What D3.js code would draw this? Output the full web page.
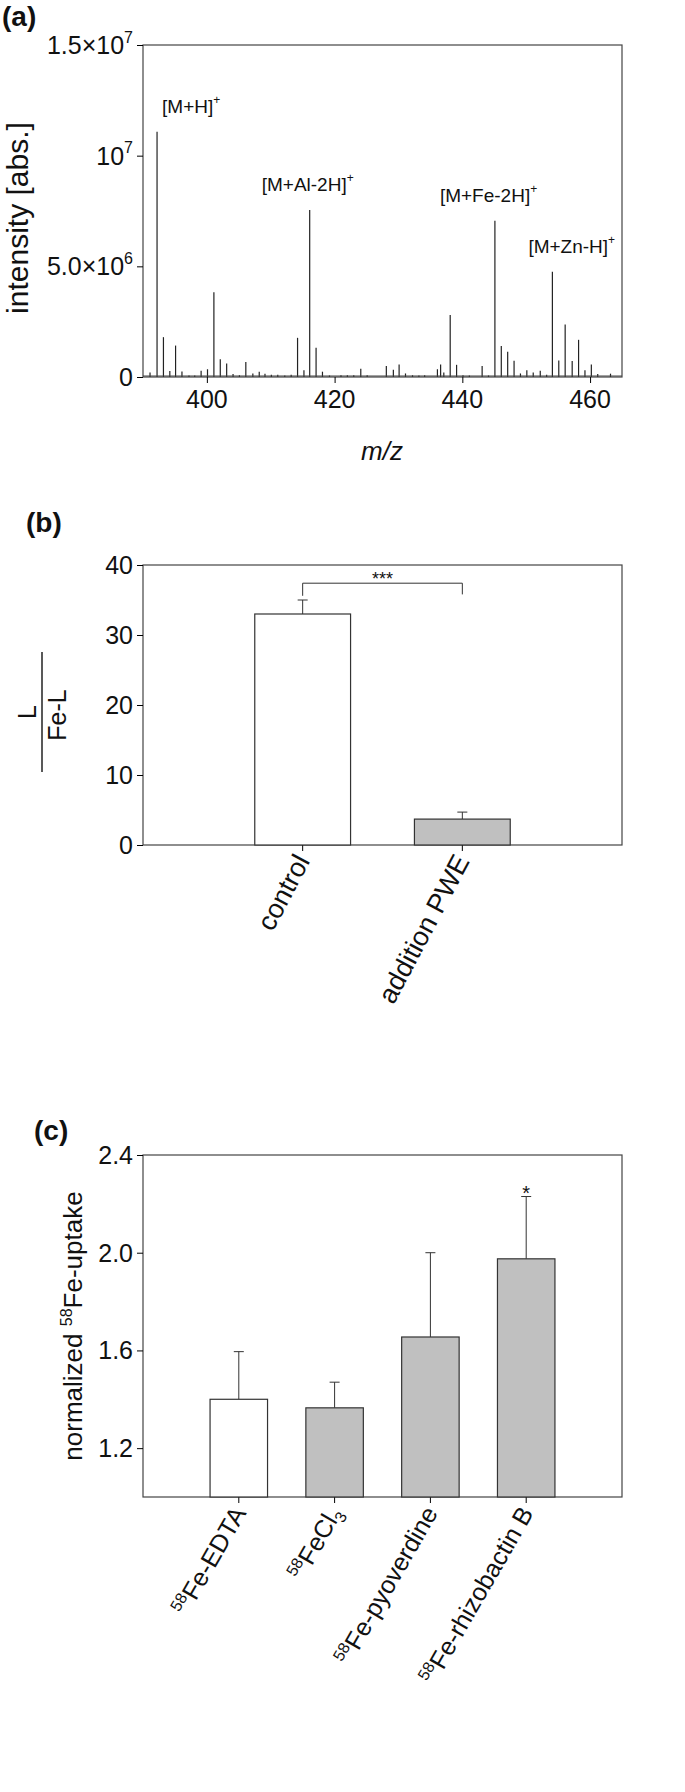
<!DOCTYPE html>
<html>
<head>
<meta charset="UTF-8">
<script src="https://d3js.org/d3.v7.min.js"></script>
<style>
  body { margin: 0; background: #fff; }
  text { font-family: "Liberation Sans", Arial, sans-serif; fill: #111; }
</style>
</head>
<body>
<script>
// (a) mass spectrum peaks: m/z and intensity (×10^6)
const peakMz = [391.1, 392.2, 393.2, 394.2, 395.1, 396.1, 397.2, 398.1, 399.1, 400.1, 401.1, 402.1, 403.1, 404.1, 405.1, 406.1,
  407.2, 408.2, 409.1, 410.1, 411.1, 412.2, 413.2, 414.2, 415.2, 416.1, 417.1, 418.1, 419.2, 421, 422, 423, 424.1, 425.1,
  428.1, 429.2, 430.1, 431.1, 432.2, 433.2, 434.1, 436.1, 436.6, 437.1, 438.1, 439.1, 440.1, 441.1, 443.1, 444.1, 445.1,
  446.1, 447.1, 448.1, 449.1, 450.1, 451.1, 452.2, 453.2, 454.1, 455.1, 456.1, 457.2, 458.2, 459.2, 460.2, 461.2, 463.2];
const peakInt = [0.2, 11.08, 1.8, 0.27, 1.42, 0.25, 0.07, 0.07, 0.28, 0.35, 3.83, 0.8, 0.61, 0.13, 0.08, 0.68,
  0.16, 0.24, 0.15, 0.1, 0.1, 0.07, 0.1, 1.77, 0.3, 7.55, 1.32, 0.24, 0.07, 0.08, 0.08, 0.08, 0.37, 0.08,
  0.5, 0.33, 0.57, 0.16, 0.08, 0.07, 0.08, 0.35, 0.57, 0.2, 2.8, 0.55, 0.08, 0.07, 0.5, 0.07, 7.06,
  1.4, 1.14, 0.73, 0.16, 0.3, 0.2, 0.28, 0.1, 4.76, 0.74, 2.37, 0.72, 1.68, 0.3, 0.56, 0.13, 0.15];
const annMz = [392.2, 416.1, 445.1, 454.1];
const annInt = [11.08, 7.55, 7.06, 4.76];
const annText = ["[M+H]", "[M+Al-2H]", "[M+Fe-2H]", "[M+Zn-H]"];
const annSup = ["+", "+", "+", "+"];
const mzTicks = [400, 420, 440, 460];

// (b) L / Fe-L ratio
const bCats = ["control", "addition PWE"];
const bVals = [33.0, 3.7];
const bErr = [2.0, 1.0];
const bFill = ["#ffffff", "#c0c0c0"];
const bTicks = [0, 10, 20, 30, 40];

// (c) normalized 58Fe uptake
const cCats = ["EDTA", "Cl", "pyoverdine", "rhizobactin B"];
const cVals = [1.40, 1.365, 1.655, 1.975];
const cErr = [0.195, 0.105, 0.345, 0.255];
const cFill = ["#ffffff", "#c0c0c0", "#c0c0c0", "#c0c0c0"];
const cTicks = [1.2, 1.6, 2.0, 2.4];

const svg = d3.select("body").append("svg").attr("width", 685).attr("height", 1792);
const L = 143, R = 622;
const TICK = 25;

function frame(g, x0, x1, y0, y1) {
  g.append("rect").attr("x", x0).attr("y", y0).attr("width", x1 - x0).attr("height", y1 - y0)
    .attr("fill", "none").attr("stroke", "#444").attr("stroke-width", 1.2);
}
function sup(t, base, s, size) {
  t.append("tspan").text(base);
  t.append("tspan").text(s).attr("font-size", size).attr("dy", -size * 0.7);
}

// ---------- (a) ----------
const ga = svg.append("g");
const ax = d3.scaleLinear().domain([390, 465]).range([L, R]);
const ay = d3.scaleLinear().domain([0, 15]).range([377, 45]);
frame(ga, L, R, 45, 377);
ga.append("g").attr("transform", "translate(0,377)")
  .call(d3.axisBottom(ax).tickValues(mzTicks).tickSize(6).tickFormat(""))
  .call(g => g.select(".domain").remove());
mzTicks.forEach(v => ga.append("text").attr("x", ax(v)).attr("y", 408).attr("text-anchor", "middle")
  .attr("font-size", TICK).text(v));
ga.append("g").attr("transform", `translate(${L},0)`)
  .call(d3.axisLeft(ay).tickValues([0, 5, 10, 15]).tickSize(6).tickFormat(""))
  .call(g => g.select(".domain").remove());
[[0, "0", null], [5, "5.0×10", "6"], [10, "10", "7"], [15, "1.5×10", "7"]].forEach(d => {
  const t = ga.append("text").attr("x", L - 10).attr("y", ay(d[0]) + 9).attr("text-anchor", "end").attr("font-size", TICK);
  if (d[2]) sup(t, d[1], d[2], 16); else t.text(d[1]);
});
ga.selectAll("line.pk").data(peakMz).join("line").attr("class", "pk")
  .attr("x1", d => ax(d)).attr("x2", d => ax(d))
  .attr("y1", ay(0)).attr("y2", (d, i) => ay(peakInt[i]))
  .attr("stroke", "#222").attr("stroke-width", 1.2);
ga.append("line").attr("x1", L).attr("x2", R).attr("y1", ay(0) - 1).attr("y2", ay(0) - 1).attr("stroke", "#444");
const annDx = [5, -48, -55, -24];
annMz.forEach((m, i) => {
  const t = ga.append("text").attr("x", ax(m) + annDx[i]).attr("y", ay(annInt[i]) - 19).attr("font-size", 19);
  sup(t, annText[i], annSup[i], 12);
});
ga.append("text").attr("transform", `translate(28,218) rotate(-90)`).attr("text-anchor", "middle")
  .attr("font-size", 30).text("intensity [abs.]");
ga.append("text").attr("x", 382).attr("y", 460).attr("text-anchor", "middle").attr("font-size", 26)
  .attr("font-style", "italic").text("m/z");
svg.append("text").attr("x", 2).attr("y", 26).attr("font-size", 28).attr("font-weight", "bold").text("(a)");

// ---------- (b) ----------
const gb = svg.append("g");
const bTop = 565, bBot = 845;
const bx = d3.scaleBand().domain(bCats).range([L, R]).paddingInner(0.4).paddingOuter(0.7);
const by = d3.scaleLinear().domain([0, 40]).range([bBot, bTop]);
frame(gb, L, R, bTop, bBot);
gb.append("g").attr("transform", `translate(${L},0)`)
  .call(d3.axisLeft(by).tickValues(bTicks).tickSize(6).tickFormat(""))
  .call(g => g.select(".domain").remove());
bTicks.forEach(v => gb.append("text").attr("x", L - 10).attr("y", by(v) + 9).attr("text-anchor", "end")
  .attr("font-size", TICK).text(v));
gb.append("g").attr("transform", `translate(0,${bBot})`)
  .call(d3.axisBottom(bx).tickSize(6).tickFormat(""))
  .call(g => g.select(".domain").remove());
const bm = d => bx(d) + bx.bandwidth() / 2;
gb.selectAll("line.err").data(bCats).join("line").attr("class", "err")
  .attr("x1", bm).attr("x2", bm)
  .attr("y1", (d, i) => by(bVals[i])).attr("y2", (d, i) => by(bVals[i] + bErr[i])).attr("stroke", "#333");
gb.selectAll("line.cap").data(bCats).join("line").attr("class", "cap")
  .attr("x1", d => bm(d) - 5).attr("x2", d => bm(d) + 5)
  .attr("y1", (d, i) => by(bVals[i] + bErr[i])).attr("y2", (d, i) => by(bVals[i] + bErr[i])).attr("stroke", "#333");
gb.selectAll("rect.bar").data(bCats).join("rect").attr("class", "bar")
  .attr("x", d => bx(d)).attr("width", bx.bandwidth())
  .attr("y", (d, i) => by(bVals[i])).attr("height", (d, i) => bBot - by(bVals[i]))
  .attr("fill", (d, i) => bFill[i]).attr("stroke", "#333").attr("stroke-width", 1.2);
const c0 = bm(bCats[0]), c1 = bm(bCats[1]);
gb.append("path").attr("d", `M${c0},${by(35.6)}V${by(37.4)}H${c1}V${by(35.8)}`).attr("fill", "none").attr("stroke", "#333");
gb.append("text").attr("x", (c0 + c1) / 2).attr("y", by(37.4) + 2).attr("text-anchor", "middle").attr("font-size", 18).text("***");
bCats.forEach(c => gb.append("text")
  .attr("transform", `translate(${bm(c) + 8},${bBot + 16}) rotate(-62)`)
  .attr("text-anchor", "end").attr("font-size", 27).text(c));
svg.append("text").attr("x", 26).attr("y", 532).attr("font-size", 28).attr("font-weight", "bold").text("(b)");
const fy = 712;
gb.append("text").attr("transform", `translate(36,${fy}) rotate(-90)`).attr("text-anchor", "middle").attr("font-size", 25).text("L");
gb.append("line").attr("x1", 42).attr("x2", 42).attr("y1", fy - 60).attr("y2", fy + 60).attr("stroke", "#222").attr("stroke-width", 1.5);
gb.append("text").attr("transform", `translate(66,${fy + 3}) rotate(-90)`).attr("text-anchor", "middle").attr("font-size", 25).text("Fe-L");

// ---------- (c) ----------
const gc = svg.append("g");
const cTop = 1155, cBot = 1497;
const cx = d3.scaleBand().domain(cCats).range([L, R]).paddingInner(0.4).paddingOuter(0.7);
const cy = d3.scaleLinear().domain([1.0, 2.4]).range([cBot, cTop]);
frame(gc, L, R, cTop, cBot);
gc.append("g").attr("transform", `translate(${L},0)`)
  .call(d3.axisLeft(cy).tickValues(cTicks).tickSize(6).tickFormat(""))
  .call(g => g.select(".domain").remove());
cTicks.forEach(v => gc.append("text").attr("x", L - 10).attr("y", cy(v) + 9).attr("text-anchor", "end")
  .attr("font-size", TICK).text(v.toFixed(1)));
gc.append("g").attr("transform", `translate(0,${cBot})`)
  .call(d3.axisBottom(cx).tickSize(6).tickFormat(""))
  .call(g => g.select(".domain").remove());
const mid = d => cx(d) + cx.bandwidth() / 2;
gc.selectAll("line.err").data(cCats).join("line").attr("class", "err")
  .attr("x1", mid).attr("x2", mid)
  .attr("y1", (d, i) => cy(cVals[i])).attr("y2", (d, i) => cy(cVals[i] + cErr[i])).attr("stroke", "#333");
gc.selectAll("line.cap").data(cCats).join("line").attr("class", "cap")
  .attr("x1", d => mid(d) - 5).attr("x2", d => mid(d) + 5)
  .attr("y1", (d, i) => cy(cVals[i] + cErr[i])).attr("y2", (d, i) => cy(cVals[i] + cErr[i])).attr("stroke", "#333");
gc.selectAll("rect.bar").data(cCats).join("rect").attr("class", "bar")
  .attr("x", d => cx(d)).attr("width", cx.bandwidth())
  .attr("y", (d, i) => cy(cVals[i])).attr("height", (d, i) => cBot - cy(cVals[i]))
  .attr("fill", (d, i) => cFill[i]).attr("stroke", "#333").attr("stroke-width", 1.2);
gc.append("text").attr("x", mid(cCats[3])).attr("y", cy(cVals[3] + cErr[3]) + 3).attr("text-anchor", "middle")
  .attr("font-size", 20).text("*");
cCats.forEach(c => {
  const t = gc.append("text").attr("transform", `translate(${mid(c) + 8},${cBot + 16}) rotate(-60)`)
    .attr("text-anchor", "end").attr("font-size", 25);
  t.append("tspan").text("58").attr("font-size", 16).attr("dy", -9);
  if (c === "Cl") {
    t.append("tspan").text("FeCl").attr("dy", 9);
    t.append("tspan").text("3").attr("font-size", 16).attr("dy", 6);
  } else {
    t.append("tspan").text("Fe-" + c).attr("dy", 9);
  }
});
const yl = gc.append("text").attr("transform", `translate(82,${(cTop + cBot) / 2}) rotate(-90)`)
  .attr("text-anchor", "middle").attr("font-size", 26);
yl.append("tspan").text("normalized ");
yl.append("tspan").text("58").attr("font-size", 16).attr("dy", -10);
yl.append("tspan").text("Fe-uptake").attr("dy", 10);
svg.append("text").attr("x", 34).attr("y", 1140).attr("font-size", 28).attr("font-weight", "bold").text("(c)");
</script>
</body>
</html>
